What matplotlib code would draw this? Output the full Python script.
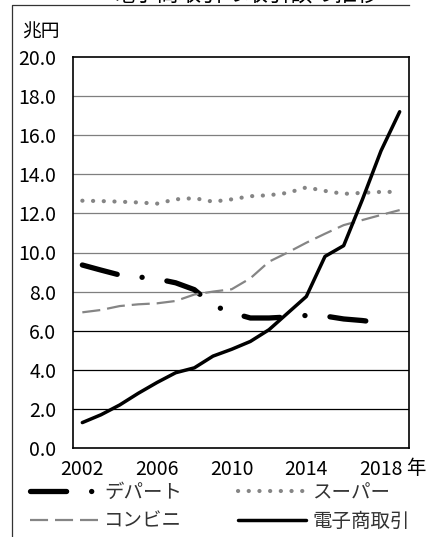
import numpy as np
import matplotlib
matplotlib.use('Agg')
import matplotlib.pyplot as plt
from matplotlib.lines import Line2D

plt.rcParams['font.family'] = ['Noto Sans CJK JP', 'DejaVu Sans']
plt.rcParams['lines.scale_dashes'] = False

title = '電子商取引の取引額の推移'
unit = '兆円'
years = np.arange(2002, 2020)
xticks = [2002, 2006, 2010, 2014, 2018]

# trillion yen
dept = [9.36, 9.1, 8.85, 8.75, 8.65, 8.45, 8.1, 7.3, 6.92, 6.65, 6.65, 6.7, 6.78,
        6.75, 6.6, 6.52, 6.4, np.nan]
super_ = [12.65, 12.63, 12.6, 12.56, 12.5, 12.72, 12.78, 12.6, 12.72, 12.88, 12.93,
          13.05, 13.33, 13.15, 13.0, 13.05, 13.1, 13.1]
conv = [6.94, 7.06, 7.26, 7.35, 7.4, 7.52, 7.85, 8.0, 8.12, 8.68, 9.53, 10.0, 10.5,
        10.96, 11.4, 11.66, 11.92, 12.17]
ec = [1.3, 1.7, 2.2, 2.8, 3.35, 3.85, 4.1, 4.7, 5.05, 5.45, 6.05, 6.9, 7.75, 9.8,
      10.35, 12.7, 15.2, 17.2]

W, H = 427, 537
fig = plt.figure(figsize=(W / 100, H / 100), dpi=100)
ax = fig.add_axes([73 / W, 1 - 448 / H, 336 / W, 391 / H])

# gridlines
for v in range(2, 20, 2):
    ax.axhline(v, color='black' if v <= 6 else '#7f7f7f', lw=0.9, zorder=1)

l_dept, = ax.plot(years, dept, color='black', lw=3.8, linestyle=(0, (26, 18, 0.1, 18)),
                  dash_capstyle='round', label='デパート', zorder=3)
l_sup, = ax.plot(years, super_, color='#858585', lw=3.0, linestyle=(0, (0.1, 7.6)),
                 dash_capstyle='round', label='スーパー', zorder=3)
l_conv, = ax.plot(years, conv, color='#858585', lw=1.6, linestyle=(0, (13, 5)),
                  label='コンビニ', zorder=3)
l_ec, = ax.plot(years, ec, color='black', lw=2.5, solid_capstyle='round',
                solid_joinstyle='round', label='電子商取引', zorder=4)

ax.set_xlim(2001.5, 2019.5)
ax.set_ylim(0, 20)
ax.set_yticks(np.arange(0, 21, 2))
ax.set_yticklabels(['%.1f' % v for v in np.arange(0, 21, 2)])
ax.set_xticks(xticks)
ax.set_xticklabels([str(x) for x in xticks])
ax.tick_params(length=0, labelsize=14, pad=8)
ax.tick_params(axis='y', pad=12)
for s in ax.spines.values():
    s.set_linewidth(1.2)
    s.set_color('black')

ax.text(0.99, -0.026, '年', transform=ax.transAxes, ha='left', va='top', fontsize=14)
fig.text(22 / W, 1 - 32 / H, unit, ha='left', va='center', fontsize=13.5)
fig.text(246 / W, 1 - 2 / H, title, ha='center', va='baseline', fontsize=16)

# outer frame (left and top edges)
fig.add_artist(Line2D([12 / W, 12 / W, 409 / W], [0, 1 - 5 / H, 1 - 5 / H],
                      transform=fig.transFigure, color='#333333', lw=0.9))

leg = ax.legend([l_dept, l_conv, l_sup, l_ec],
                ['デパート', 'コンビニ', 'スーパー', '電子商取引'],
                ncol=2, loc='upper left', bbox_to_anchor=(30 / W, 1 - 482 / H),
                bbox_transform=fig.transFigure, frameon=False, fontsize=14,
                handlelength=3.5, handletextpad=0.3, columnspacing=2.9,
                borderpad=0, borderaxespad=0, labelspacing=0.4)
for t in leg.get_texts():
    t.set_color('#333333')

fig.savefig('out.png', dpi=100)
